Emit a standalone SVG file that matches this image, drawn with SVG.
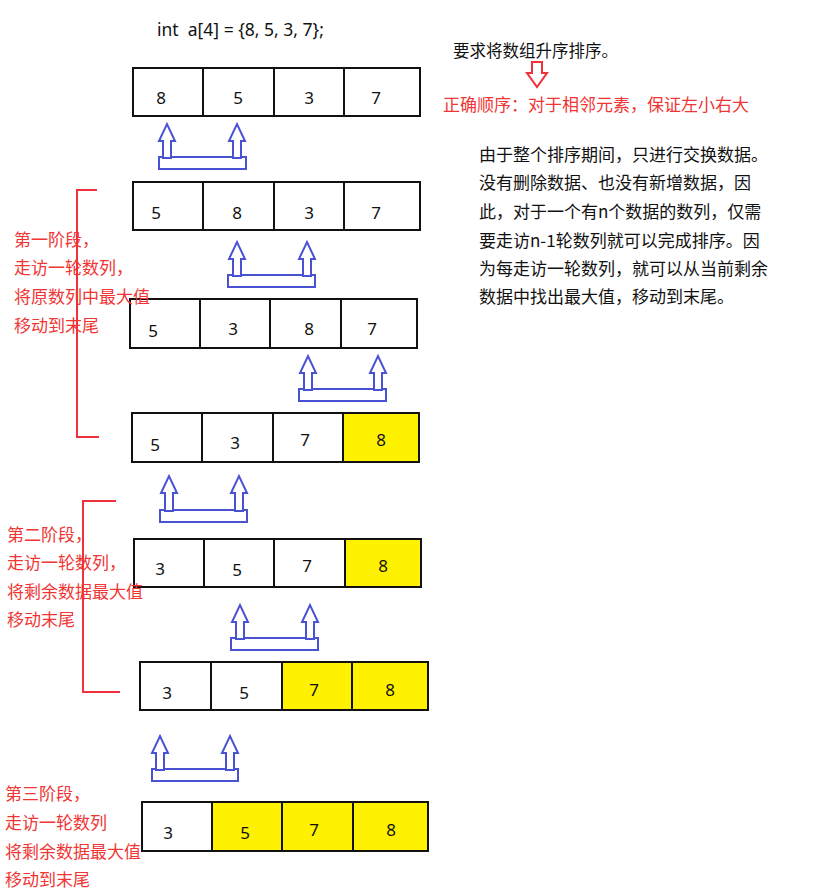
<svg xmlns="http://www.w3.org/2000/svg" width="828" height="893" viewBox="0 0 828 893">
<style>
.t{font-family:"Noto Sans CJK SC","Noto Sans",sans-serif;font-size:17px;fill:#111}
.r{font-family:"Noto Sans CJK SC","Noto Sans",sans-serif;font-size:17px;fill:#f03535}
.n{font-family:"Noto Sans","Noto Sans CJK SC",sans-serif;font-size:17px;fill:#111;text-anchor:middle}
.box{fill:#fff;stroke:#111;stroke-width:2}
.y{fill:#fff200;stroke:#111;stroke-width:2}
.bl{fill:#fff;stroke:#4a52d4;stroke-width:2}
.rb{fill:none;stroke:#f0303a;stroke-width:2}
</style>
<rect width="828" height="893" fill="#fff"/>
<g id="title"><text x="157" y="36" xml:space="preserve" style="font-family:'Noto Sans',sans-serif;font-size:17.5px;fill:#111">int  a[4] = {8, 5, 3, 7};</text></g>
<g id="req"><text class="t" x="453" y="57" style="font-size:16.5px">要求将数组升序排序。</text></g>
<g id="downarrow"><polygon class="rb" points="532,62 542,62 542,73 547,73 537,87 527,73 532,73"/></g>
<g id="rule"><text class="r" x="443" y="111">正确顺序：对于相邻元素，保证左小右大</text></g>
<g id="explain">
<text class="t" x="479" y="161">由于整个排序期间，只进行交换数据。</text>
<text class="t" x="479" y="189">没有删除数据、也没有新增数据，因</text>
<text class="t" x="479" y="218">此，对于一个有n个数据的数列，仅需</text>
<text class="t" x="479" y="247">要走访n-1轮数列就可以完成排序。因</text>
<text class="t" x="479" y="275">为每走访一轮数列，就可以从当前剩余</text>
<text class="t" x="479" y="303">数据中找出最大值，移动到末尾。</text>
</g>

<g id="row1">
<rect class="box" x="133" y="68" width="70" height="48"/><rect class="box" x="203" y="68" width="71" height="48"/><rect class="box" x="274" y="68" width="70" height="48"/><rect class="box" x="344" y="68" width="76" height="48"/>
<text class="n" x="161" y="104">8</text><text class="n" x="238" y="104">5</text><text class="n" x="309" y="104">3</text><text class="n" x="376" y="104">7</text>
</g>
<g id="row2">
<rect class="box" x="133" y="182" width="70" height="48"/><rect class="box" x="203" y="182" width="71" height="48"/><rect class="box" x="274" y="182" width="70" height="48"/><rect class="box" x="344" y="182" width="76" height="48"/>
<text class="n" x="156" y="219">5</text><text class="n" x="237" y="219">8</text><text class="n" x="309" y="219">3</text><text class="n" x="376" y="219">7</text>
</g>
<g id="row3">
<rect class="box" x="130" y="299" width="70" height="49"/><rect class="box" x="200" y="299" width="70" height="49"/><rect class="box" x="270" y="299" width="71" height="49"/><rect class="box" x="341" y="299" width="76" height="49"/>
<text class="n" x="153" y="337">5</text><text class="n" x="233" y="335">3</text><text class="n" x="309" y="335">8</text><text class="n" x="372" y="335">7</text>
</g>
<g id="row4">
<rect class="box" x="132" y="413" width="70" height="49"/><rect class="box" x="202" y="413" width="71" height="49"/><rect class="box" x="273" y="413" width="70" height="49"/><rect class="y" x="343" y="413" width="76" height="49"/>
<text class="n" x="155" y="451">5</text><text class="n" x="235" y="449">3</text><text class="n" x="305" y="446">7</text><text class="n" x="381" y="446">8</text>
</g>
<g id="row5">
<rect class="box" x="134" y="539" width="70" height="48"/><rect class="box" x="204" y="539" width="70" height="48"/><rect class="box" x="274" y="539" width="71" height="48"/><rect class="y" x="345" y="539" width="76" height="48"/>
<text class="n" x="160" y="575">3</text><text class="n" x="237" y="576">5</text><text class="n" x="307" y="572">7</text><text class="n" x="383" y="572">8</text>
</g>
<g id="row6">
<rect class="box" x="140" y="662" width="71" height="48"/><rect class="box" x="211" y="662" width="71" height="48"/><rect class="y" x="282" y="662" width="70" height="48"/><rect class="y" x="352" y="662" width="76" height="48"/>
<text class="n" x="167" y="699">3</text><text class="n" x="244" y="699">5</text><text class="n" x="314" y="696">7</text><text class="n" x="390" y="696">8</text>
</g>
<g id="row7">
<rect class="box" x="142" y="802" width="70" height="49"/><rect class="y" x="212" y="802" width="70" height="49"/><rect class="y" x="282" y="802" width="71" height="49"/><rect class="y" x="353" y="802" width="75" height="49"/>
<text class="n" x="168" y="839">3</text><text class="n" x="245" y="839">5</text><text class="n" x="314" y="836">7</text><text class="n" x="391" y="836">8</text>
</g>

<g id="connectors">
<g id="swap1">
<rect class="bl" x="159" y="157" width="87" height="12"/>
<polygon class="bl" points="163,158 163,141 159,141 167,124 175,141 171,141 171,158"/>
<polygon class="bl" points="233,158 233,141 229,141 237,124 245,141 241,141 241,158"/>
</g>
<g id="swap2">
<rect class="bl" x="228" y="275" width="87" height="12"/>
<polygon class="bl" points="233,276 233,259 229,259 237,242 245,259 241,259 241,276"/>
<polygon class="bl" points="303,276 303,259 299,259 307,242 315,259 311,259 311,276"/>
</g>
<g id="swap3">
<rect class="bl" x="299" y="389" width="87" height="12"/>
<polygon class="bl" points="304,390 304,373 300,373 308,356 316,373 312,373 312,390"/>
<polygon class="bl" points="374,390 374,373 370,373 378,356 386,373 382,373 382,390"/>
</g>
<g id="swap4">
<rect class="bl" x="160" y="510" width="87" height="12"/>
<polygon class="bl" points="165,511 165,493 161,493 169,476 177,493 173,493 173,511"/>
<polygon class="bl" points="235,511 235,493 231,493 239,476 247,493 243,493 243,511"/>
</g>
<g id="swap5">
<rect class="bl" x="231" y="638" width="87" height="12"/>
<polygon class="bl" points="236,639 236,622 232,622 240,605 248,622 244,622 244,639"/>
<polygon class="bl" points="306,639 306,622 302,622 310,605 318,622 314,622 314,639"/>
</g>
<g id="swap6">
<rect class="bl" x="152" y="769" width="86" height="12"/>
<polygon class="bl" points="156,770 156,753 152,753 160,736 168,753 164,753 164,770"/>
<polygon class="bl" points="226,770 226,753 222,753 230,736 238,753 234,753 234,770"/>
</g>
</g>

<g id="phase1">
<polyline class="rb" points="97,190 77,190 77,437 99,437"/>
<text class="r" x="14" y="246">第一阶段，</text>
<text class="r" x="14" y="274">走访一轮数列，</text>
<text class="r" x="14" y="303">将原数列中最大值</text>
<text class="r" x="14" y="332">移动到末尾</text>
</g>
<g id="phase2">
<polyline class="rb" points="116,501 83,501 83,692 120,692"/>
<text class="r" x="7" y="541">第二阶段，</text>
<text class="r" x="7" y="569">走访一轮数列，</text>
<text class="r" x="7" y="598">将剩余数据最大值</text>
<text class="r" x="7" y="626">移动末尾</text>
</g>
<g id="phase3">
<text class="r" x="5" y="800">第三阶段，</text>
<text class="r" x="5" y="829">走访一轮数列</text>
<text class="r" x="5" y="858">将剩余数据最大值</text>
<text class="r" x="5" y="886">移动到末尾</text>
</g>
</svg>
